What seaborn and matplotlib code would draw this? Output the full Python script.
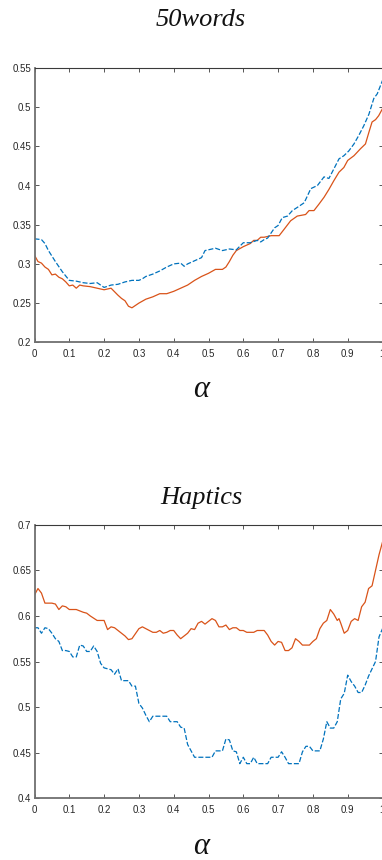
import numpy as np
import pandas as pd
import matplotlib
matplotlib.use("Agg")
import matplotlib.pyplot as plt
import seaborn as sns

# ---------------- data ----------------
titles = ["50words", "Haptics"]
xlabel = "α"

# 50words, blue dashed series
w50_blue_a = [0, 0.02, 0.03, 0.04, 0.06, 0.08, 0.10, 0.12, 0.14, 0.16, 0.18, 0.20, 0.22, 0.24, 0.26,
              0.28, 0.30, 0.31, 0.32, 0.34, 0.36, 0.38, 0.40, 0.42, 0.43, 0.44, 0.46, 0.48, 0.49, 0.50,
              0.52, 0.54, 0.56, 0.58, 0.60, 0.62, 0.64, 0.65, 0.66, 0.67, 0.69, 0.70, 0.712, 0.727,
              0.741, 0.755, 0.775, 0.794, 0.813, 0.832, 0.846, 0.860, 0.875, 0.889, 0.903, 0.918,
              0.932, 0.946, 0.961, 0.975, 0.985, 1.0]
w50_blue_v = [0.332, 0.331, 0.326, 0.317, 0.303, 0.290, 0.279, 0.278, 0.276, 0.275, 0.276, 0.270, 0.273,
              0.274, 0.277, 0.279, 0.279, 0.281, 0.284, 0.287, 0.291, 0.296, 0.300, 0.301, 0.297, 0.300,
              0.304, 0.308, 0.317, 0.318, 0.320, 0.317, 0.319, 0.318, 0.327, 0.327, 0.330, 0.328, 0.331,
              0.333, 0.346, 0.349, 0.359, 0.361, 0.368, 0.372, 0.378, 0.396, 0.400, 0.411, 0.409, 0.421,
              0.434, 0.438, 0.444, 0.453, 0.464, 0.476, 0.491, 0.511, 0.517, 0.534]

# 50words, orange solid series
w50_red_a = [0, 0.01, 0.02, 0.03, 0.04, 0.05, 0.06, 0.07, 0.08, 0.09, 0.10, 0.11, 0.12, 0.13, 0.14, 0.16,
             0.18, 0.20, 0.22, 0.24, 0.25, 0.26, 0.27, 0.28, 0.30, 0.32, 0.34, 0.36, 0.38, 0.40, 0.42,
             0.44, 0.46, 0.48, 0.50, 0.52, 0.54, 0.55, 0.56, 0.57, 0.58, 0.60, 0.62, 0.63, 0.64, 0.65,
             0.66, 0.68, 0.703, 0.717, 0.736, 0.755, 0.779, 0.789, 0.803, 0.817, 0.832, 0.846, 0.860,
             0.875, 0.889, 0.90, 0.918, 0.937, 0.951, 0.961, 0.970, 0.980, 0.989, 1.0]
w50_red_v = [0.311, 0.303, 0.301, 0.296, 0.293, 0.286, 0.287, 0.283, 0.281, 0.277, 0.272, 0.273, 0.269,
             0.273, 0.272, 0.271, 0.269, 0.267, 0.269, 0.260, 0.256, 0.253, 0.246, 0.244, 0.250, 0.255,
             0.258, 0.262, 0.262, 0.265, 0.269, 0.273, 0.279, 0.284, 0.288, 0.293, 0.293, 0.296, 0.303,
             0.311, 0.317, 0.322, 0.326, 0.330, 0.330, 0.334, 0.334, 0.336, 0.336, 0.344, 0.355, 0.361,
             0.363, 0.368, 0.368, 0.376, 0.385, 0.395, 0.406, 0.417, 0.423, 0.432, 0.438, 0.447, 0.453,
             0.468, 0.481, 0.484, 0.489, 0.498]

# Haptics, orange solid series
hap_red_a = [0, 0.01, 0.02, 0.03, 0.05, 0.06, 0.07, 0.08, 0.09, 0.10, 0.12, 0.14, 0.15, 0.16, 0.18, 0.20,
             0.21, 0.22, 0.23, 0.24, 0.25, 0.26, 0.27, 0.28, 0.30, 0.31, 0.32, 0.33, 0.34, 0.35, 0.36,
             0.37, 0.38, 0.39, 0.40, 0.41, 0.42, 0.43, 0.44, 0.45, 0.46, 0.47, 0.48, 0.49, 0.50, 0.51,
             0.52, 0.53, 0.54, 0.55, 0.56, 0.57, 0.58, 0.59, 0.60, 0.61, 0.62, 0.63, 0.64, 0.65, 0.66,
             0.67, 0.68, 0.69, 0.70, 0.71, 0.72, 0.73, 0.74, 0.75, 0.76, 0.77, 0.78, 0.79, 0.80, 0.81,
             0.82, 0.83, 0.84, 0.85, 0.86, 0.87, 0.875, 0.88, 0.89, 0.90, 0.91, 0.92, 0.93, 0.94, 0.95,
             0.96, 0.97, 0.98, 0.99, 1.0]
hap_red_v = [0.623, 0.630, 0.625, 0.614, 0.614, 0.613, 0.607, 0.611, 0.610, 0.607, 0.607, 0.604, 0.603,
             0.600, 0.595, 0.595, 0.585, 0.588, 0.587, 0.584, 0.581, 0.578, 0.574, 0.575, 0.586, 0.588,
             0.586, 0.584, 0.582, 0.582, 0.584, 0.581, 0.582, 0.584, 0.584, 0.579, 0.575, 0.578, 0.581,
             0.586, 0.585, 0.592, 0.594, 0.591, 0.594, 0.597, 0.595, 0.588, 0.588, 0.590, 0.585, 0.587,
             0.587, 0.584, 0.584, 0.582, 0.582, 0.582, 0.584, 0.584, 0.584, 0.579, 0.572, 0.568, 0.572,
             0.571, 0.562, 0.562, 0.565, 0.575, 0.572, 0.568, 0.568, 0.568, 0.572, 0.575, 0.586, 0.592,
             0.595, 0.607, 0.602, 0.595, 0.597, 0.592, 0.581, 0.584, 0.594, 0.597, 0.595, 0.610, 0.615,
             0.630, 0.633, 0.650, 0.667, 0.681]

# Haptics, blue dashed series
hap_blue_a = [0, 0.01, 0.02, 0.03, 0.04, 0.05, 0.06, 0.07, 0.08, 0.09, 0.10, 0.11, 0.12, 0.13, 0.14,
              0.15, 0.16, 0.17, 0.18, 0.19, 0.20, 0.22, 0.23, 0.24, 0.25, 0.26, 0.27, 0.28, 0.29, 0.30,
              0.31, 0.32, 0.33, 0.34, 0.35, 0.36, 0.37, 0.38, 0.39, 0.40, 0.41, 0.42, 0.43, 0.44, 0.45,
              0.46, 0.47, 0.48, 0.49, 0.50, 0.51, 0.52, 0.53, 0.54, 0.55, 0.56, 0.57, 0.58, 0.59, 0.60,
              0.61, 0.62, 0.63, 0.64, 0.65, 0.66, 0.67, 0.68, 0.69, 0.70, 0.71, 0.72, 0.73, 0.74, 0.75,
              0.76, 0.77, 0.78, 0.79, 0.80, 0.81, 0.82, 0.83, 0.84, 0.85, 0.86, 0.87, 0.88, 0.89, 0.90,
              0.91, 0.92, 0.93, 0.94, 0.95, 0.96, 0.97, 0.98, 0.99, 1.0]
hap_blue_v = [0.587, 0.587, 0.581, 0.587, 0.586, 0.581, 0.575, 0.572, 0.562, 0.562, 0.561, 0.555, 0.555,
              0.568, 0.567, 0.561, 0.561, 0.567, 0.561, 0.548, 0.543, 0.541, 0.536, 0.542, 0.529, 0.529,
              0.529, 0.523, 0.523, 0.504, 0.499, 0.491, 0.484, 0.490, 0.490, 0.490, 0.490, 0.490, 0.484,
              0.484, 0.484, 0.478, 0.477, 0.459, 0.452, 0.445, 0.445, 0.445, 0.445, 0.445, 0.445, 0.452,
              0.452, 0.452, 0.465, 0.464, 0.452, 0.451, 0.438, 0.445, 0.438, 0.438, 0.445, 0.438, 0.438,
              0.438, 0.438, 0.445, 0.445, 0.445, 0.451, 0.445, 0.438, 0.438, 0.438, 0.438, 0.451, 0.457,
              0.457, 0.452, 0.452, 0.452, 0.465, 0.484, 0.477, 0.477, 0.484, 0.509, 0.515, 0.535, 0.528,
              0.523, 0.516, 0.516, 0.524, 0.534, 0.542, 0.550, 0.577, 0.586]

x_ticks = [0, 0.1, 0.2, 0.3, 0.4, 0.5, 0.6, 0.7, 0.8, 0.9, 1.0]
x_ticklabels = ["0", "0.1", "0.2", "0.3", "0.4", "0.5", "0.6", "0.7", "0.8", "0.9", "1"]
y1_ticks = [0.2, 0.25, 0.3, 0.35, 0.4, 0.45, 0.5, 0.55]
y1_ticklabels = ["0.2", "0.25", "0.3", "0.35", "0.4", "0.45", "0.5", "0.55"]
y2_ticks = [0.4, 0.45, 0.5, 0.55, 0.6, 0.65, 0.7]
y2_ticklabels = ["0.4", "0.45", "0.5", "0.55", "0.6", "0.65", "0.7"]

# ---------------- style ----------------
sns.set_theme(style="ticks")
plt.rcParams['font.family'] = ['Liberation Sans', 'DejaVu Sans']

RED = "#D95319"
BLUE = "#0072BD"
AXC = "#3a3a3a"

fig = plt.figure(figsize=(3.82, 8.6), dpi=100)

W = 382.0
H = 860.0
specs = [
    dict(top=67.9, bottom=342.3, title=titles[0], ylim=(0.2, 0.55), yt=y1_ticks, ytl=y1_ticklabels,
         blue=(w50_blue_a, w50_blue_v), red=(w50_red_a, w50_red_v), title_y=20, xl_y=390),
    dict(top=524.7, bottom=798.3, title=titles[1], ylim=(0.4, 0.7), yt=y2_ticks, ytl=y2_ticklabels,
         blue=(hap_blue_a, hap_blue_v), red=(hap_red_a, hap_red_v), title_y=498, xl_y=847),
]

left_px, right_px = 34.5, 382.5
for s in specs:
    ax = fig.add_axes([left_px / W, 1 - s["bottom"] / H,
                       (right_px - left_px) / W, (s["bottom"] - s["top"]) / H])
    ba, bv = s["blue"]
    ra, rv = s["red"]
    sns.lineplot(x=ra, y=rv, ax=ax, color=RED, linewidth=0.9, errorbar=None, sort=True)
    sns.lineplot(x=ba, y=bv, ax=ax, color=BLUE, linewidth=0.9, errorbar=None, sort=True,
                 linestyle=(0, (4.0, 1.6)))
    ax.set_xlim(0, 1)
    ax.set_ylim(*s["ylim"])
    ax.set_xticks(x_ticks)
    ax.set_xticklabels(x_ticklabels)
    ax.set_yticks(s["yt"])
    ax.set_yticklabels(s["ytl"])
    ax.tick_params(axis="both", direction="in", length=3.2, width=0.6, color=AXC,
                   labelsize=7, labelcolor="#262626", top=True, right=True)
    ax.tick_params(axis="x", pad=4.5)
    ax.tick_params(axis="y", pad=2.5)
    for sp in ax.spines.values():
        sp.set_visible(True)
        sp.set_color(AXC)
        sp.set_linewidth(0.8)
    ax.spines["left"].set_color("#707070")
    ax.spines["left"].set_linewidth(1.3)
    ax.spines["bottom"].set_color("#707070")
    ax.spines["bottom"].set_linewidth(1.3)
    ax.set_xlabel("")
    ax.set_ylabel("")
    ax.grid(False)

    fig.text(201 / W, 1 - s["title_y"] / H, s["title"], ha="center", va="center",
             fontsize=19, fontstyle="italic", family=["Liberation Serif", "DejaVu Serif"],
             color="#111111")
    fig.text(201 / W, 1 - s["xl_y"] / H, xlabel, ha="center", va="center",
             fontsize=22, fontstyle="italic", family=["Liberation Serif", "DejaVu Serif"],
             color="#111111")

fig.savefig("out.png", dpi=100)
